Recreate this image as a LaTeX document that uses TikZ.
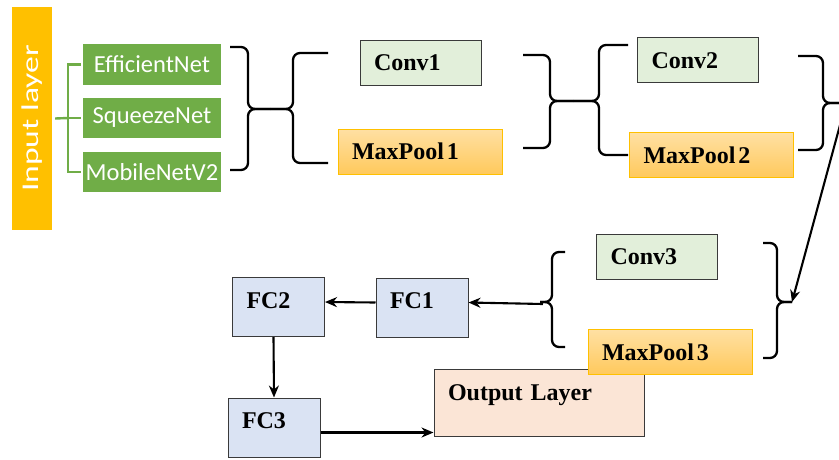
\documentclass[tikz,border=0pt]{standalone}
\usepackage{fontspec}
\setmainfont{Liberation Serif}
\newfontfamily\calibri{Carlito}
\usetikzlibrary{positioning, arrows.meta}

\definecolor{inorange}{HTML}{FFC000}
\definecolor{netgreen}{HTML}{70AD47}
\definecolor{convgreen}{HTML}{E2EFDA}
\definecolor{pooltop}{HTML}{FFE0A3}
\definecolor{poolbot}{HTML}{FFC95C}
\definecolor{fcblue}{HTML}{DAE3F3}
\definecolor{outpeach}{HTML}{FBE5D6}
\definecolor{boxline}{HTML}{3A3A3A}

\begin{document}
\begin{tikzpicture}[x=1pt, y=-1pt,
    netbox/.style={rectangle, fill=netgreen, text=white, inner sep=0pt,
        font=\calibri\fontsize{24.5}{28}\selectfont, minimum width=138pt, minimum height=40pt},
    blk/.style={rectangle, draw=boxline, line width=1pt, inner xsep=14pt, inner ysep=0pt,
        align=left, font=\bfseries\fontsize{24}{28}\selectfont, text height=16pt, text depth=0pt},
    convbox/.style={blk, fill=convgreen, text width=93pt, minimum height=45pt},
    poolbox/.style={blk, draw=inorange, top color=pooltop, bottom color=poolbot, text width=136pt, minimum height=45pt},
    fcbox/.style={blk, fill=fcblue, text width=64pt, minimum height=59pt, text depth=14pt},
    outbox/.style={blk, fill=outpeach, text width=182pt, minimum height=67pt, text depth=21pt},
    bracket/.style={draw, line width=2.3pt, rounded corners=7pt},
    flow/.style={draw, line width=2.1pt, -{Stealth[length=12pt, width=10pt]}},
    tree/.style={draw=netgreen, line width=2.4pt}
]
\useasboundingbox (0,0) rectangle (839,459);
\clip (0,0) rectangle (839,459);

% Input layer and the three backbones
\node[rectangle, fill=inorange, text=white, rotate=90, minimum width=223pt, minimum height=40pt, inner sep=0pt,
    font=\calibri\fontsize{24}{28}\selectfont] (inbar) at (32,118.5) {\scalebox{1.4}[1]{Input layer}};
\node[netbox, minimum height=41pt] (eff) at (152,64.5) {EfficientNet};
\node[netbox] (sqz) at (152,118) {SqueezeNet};
\node[netbox] (mob) at (152,172) {MobileNetV2};

\coordinate (fork) at (68,118);
% rotated bar: its south side faces right
\draw[tree] ([xshift=3pt]inbar.south) -- (fork);
\foreach \n in {eff,sqz,mob} {
    \draw[tree] (fork) |- ([xshift=-2pt]\n.west);
}

% Conv / pooling stages
\node[convbox] (conv1) at (420.5,62.5) {Conv1};
\node[poolbox] (pool1) at (420,151.5) {MaxPool\hspace{3pt}1};
\node[convbox] (conv2) at (698,60) {Conv2};
\node[poolbox] (pool2) at (711.5,155) {MaxPool\hspace{3pt}2};
\node[convbox] (conv3) at (657,256.5) {Conv3};

% Fully connected part
\node[fcbox] (fc1) at (422,307.5) {FC1};
\node[fcbox] (fc2) at (278.5,307) {FC2};
\node[fcbox] (fc3) at (274,427.5) {FC3};
\node[outbox] (outl) at (539,402.5) {Output Layer};
\node[poolbox] (pool3) at (670,352) {MaxPool\hspace{3pt}3};

% Brace tips
\coordinate (ab) at (270,109);
\coordinate (cd) at (573,101);
\coordinate (etip) at (846,103);
\coordinate (ftip) at (792,302);
\coordinate (gtip) at (540,302);

% Braces: end x / top y / bottom y / spine x / tip
\foreach \xa/\ya/\yb/\xs/\tp in {230/47/170/248/ab, 328/53/163/293/ab,
        523/55/148/550/cd, 628/45/155/599/cd,
        798/56/150/823/etip, 763/243/358/777/ftip, 565/252/347/552/gtip} {
    \draw[bracket] (\xa,\ya) -- (\xs,\ya) -- (\xs,0 |- \tp) -- (\tp);
    \draw[bracket] (\xa,\yb) -- (\xs,\yb) -- (\xs,0 |- \tp) -- (\tp);
}

% Arrows
\draw[flow] (etip) -- (ftip);
\draw[flow] ([xshift=3pt,yshift=-2pt]gtip) -- ([yshift=5pt]fc1.east);
\draw[flow] ([yshift=5pt]fc1.west) -- ([yshift=5pt]fc2.east);
\draw[flow] ([xshift=-5pt]fc2.south) -- (fc3.north);
\draw[flow] ([yshift=-5pt]fc3.east) -- ([yshift=-5pt]fc3.east -| outl.west);

\end{tikzpicture}
\end{document}
